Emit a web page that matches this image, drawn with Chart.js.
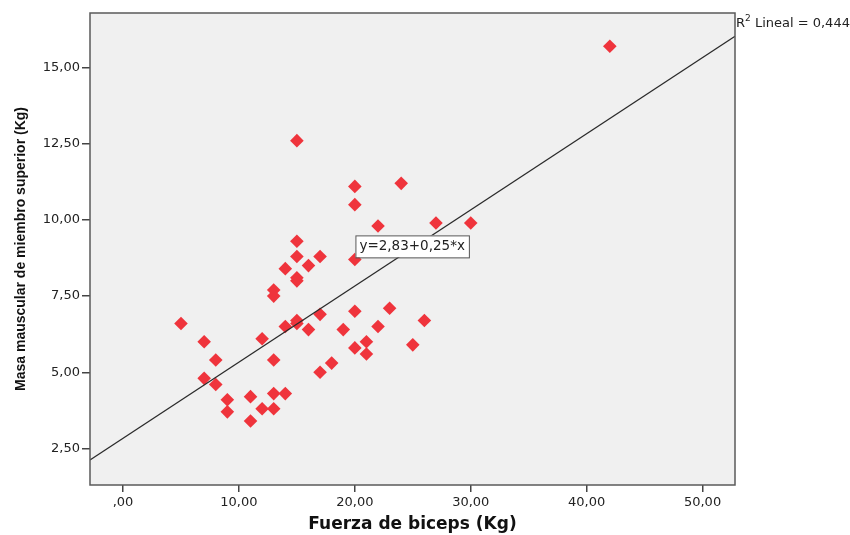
<!DOCTYPE html>
<html>
<head>
<meta charset="utf-8">
<script src="https://cdn.jsdelivr.net/npm/chart.js@4/dist/chart.umd.min.js"></script>
<style>
  html, body { margin: 0; padding: 0; background: #fff; }
</style>
</head>
<body>
<canvas id="myChart" width="850" height="535"></canvas>
<script>
// fuerza de biceps (Kg) vs masa muscular de miembro superior (Kg)
const fuerza = [42, 15, 20, 24, 20, 22, 27, 30, 15, 15, 17, 14, 16, 15, 15, 20, 13, 13, 23, 20,
  17, 5, 14, 15, 15, 16, 19, 22, 26, 7, 12, 21, 20, 25, 21, 8, 13, 18, 17, 7,
  8, 9, 11, 13, 14, 9, 12, 13, 11];
const masa = [15.7, 12.6, 11.1, 11.2, 10.5, 9.8, 9.9, 9.9, 9.3, 8.8, 8.8, 8.4, 8.5, 8.1, 8.0, 8.7, 7.7, 7.5, 7.1, 7.0,
  6.9, 6.6, 6.5, 6.7, 6.6, 6.4, 6.4, 6.5, 6.7, 6.0, 6.1, 6.0, 5.8, 5.9, 5.6, 5.4, 5.4, 5.3, 5.0, 4.8,
  4.6, 4.1, 4.2, 4.3, 4.3, 3.7, 3.8, 3.8, 3.4];

const intercepto = 2.83;
const pendiente = 0.25;
const r2 = '0,444';
const xTicks = [0, 10, 20, 30, 40, 50];
const yTicks = [2.5, 5, 7.5, 10, 12.5, 15];

const xMin = -2.85, xMax = 52.8;
const yMin = 1.3, yMax = 16.79;

const fmt = v => v === 0 ? ',00' : v.toFixed(2).replace('.', ',');

const puntos = fuerza.map((f, i) => ({ x: f, y: masa[i] }));
const recta = [xMin, xMax].map(x => ({ x: x, y: intercepto + pendiente * x }));

const marco = {
  id: 'marco',
  beforeDraw(chart) {
    const { ctx, chartArea: a } = chart;
    ctx.save();
    ctx.fillStyle = '#f0f0f0';
    ctx.fillRect(a.left, a.top, a.right - a.left, a.bottom - a.top);
    ctx.restore();
  },
  afterDatasetsDraw(chart) {
    const { ctx, chartArea: a, scales } = chart;
    ctx.save();
    // caja de la ecuacion
    const bx = scales.x.getPixelForValue(20.05);
    const by = scales.y.getPixelForValue(8.77);
    ctx.font = '13.5px "DejaVu Sans"';
    const txt = 'y=' + fmt(intercepto) + '+' + fmt(pendiente) + '*x';
    const w = ctx.measureText(txt).width + 8;
    ctx.fillStyle = '#fff';
    ctx.fillRect(bx, by - 22, w, 22);
    ctx.strokeStyle = '#555';
    ctx.lineWidth = 1;
    ctx.strokeRect(bx + 0.5, by - 21.5, w, 22);
    ctx.fillStyle = '#222';
    ctx.textBaseline = 'middle';
    ctx.fillText(txt, bx + 4, by - 10.5);

    // marco del area
    ctx.strokeStyle = '#5a5a5a';
    ctx.lineWidth = 1.5;
    ctx.strokeRect(a.left, a.top, a.right - a.left, a.bottom - a.top);

    // R2
    ctx.fillStyle = '#222';
    ctx.textBaseline = 'alphabetic';
    ctx.font = '13px "DejaVu Sans"';
    let x = a.right + 1;
    ctx.fillText('R', x, 27);
    x += ctx.measureText('R').width;
    ctx.font = '9px "DejaVu Sans"';
    ctx.fillText('2', x, 21);
    x += ctx.measureText('2').width;
    ctx.font = '13px "DejaVu Sans"';
    ctx.fillText(' Lineal = ' + r2, x, 27);
    ctx.restore();
  }
};

let ctx = document.getElementById('myChart');

new Chart(ctx, {
  type: 'scatter',
  data: {
    datasets: [{
      data: recta,
      type: 'line',
      borderColor: '#2a2a2a',
      borderWidth: 1.2,
      pointRadius: 0,
      fill: false,
      order: 1
    }, {
      data: puntos,
      pointStyle: 'rectRot',
      pointRadius: 6.8,
      pointBackgroundColor: '#ef343c',
      pointBorderColor: '#ef343c',
      pointBorderWidth: 0,
      order: 2
    }]
  },
  options: {
    responsive: false,
    animation: false,
    layout: { padding: { left: 0, top: 13, right: 115, bottom: 0 } },
    plugins: { legend: { display: false }, tooltip: { enabled: false } },
    scales: {
      x: {
        type: 'linear',
        min: xMin,
        max: xMax,
        afterFit(s) { s.height = 50; },
        afterBuildTicks(s) { s.ticks = xTicks.map(v => ({ value: v })); },
        border: { display: false },
        grid: { drawOnChartArea: false, drawTicks: true, tickLength: 7, color: '#444', lineWidth: 1.5 },
        ticks: {
          padding: 3,
          color: '#222',
          font: { family: 'DejaVu Sans', size: 13 },
          maxRotation: 0,
          callback: v => fmt(v)
        },
        title: {
          display: true,
          text: 'Fuerza de biceps (Kg)',
          color: '#111',
          font: { family: 'DejaVu Sans', size: 17, weight: 'bold' },
          padding: { top: 0, bottom: 0 }
        }
      },
      y: {
        type: 'linear',
        min: yMin,
        max: yMax,
        afterFit(s) { s.width = 90; },
        afterBuildTicks(s) { s.ticks = yTicks.map(v => ({ value: v })); },
        border: { display: false },
        grid: { drawOnChartArea: false, drawTicks: true, tickLength: 8, color: '#444', lineWidth: 1.5 },
        ticks: {
          padding: 2,
          color: '#222',
          font: { family: 'DejaVu Sans', size: 13 },
          callback: v => fmt(v)
        },
        title: {
          display: true,
          text: 'Masa mauscular de miembro superior (Kg)',
          color: '#111',
          font: { family: "'Liberation Sans', Arial, sans-serif", size: 14, weight: 'bold' },
          padding: { top: 13, bottom: 0 }
        }
      }
    }
  },
  plugins: [marco]
});
</script>
</body>
</html>
